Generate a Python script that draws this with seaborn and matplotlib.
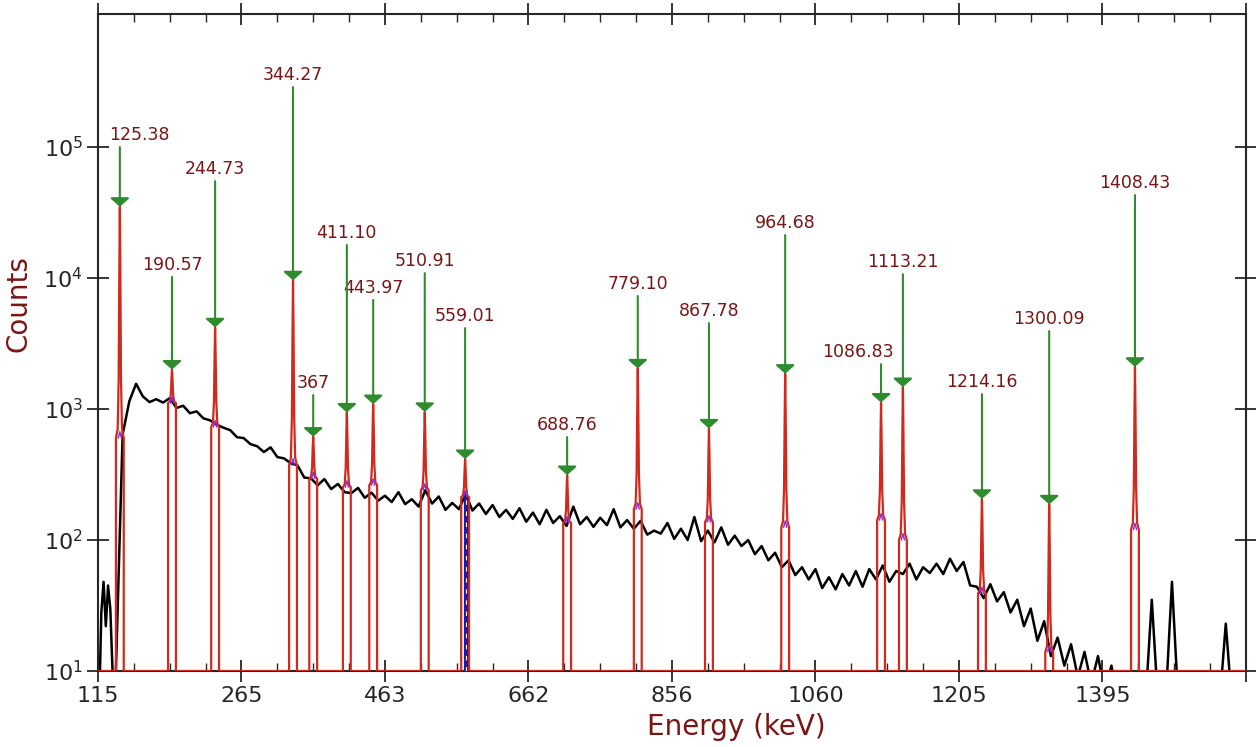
import matplotlib
matplotlib.use('Agg')
import matplotlib.pyplot as plt
import numpy as np
import pandas as pd
import seaborn as sns
from matplotlib.ticker import MultipleLocator, NullLocator

# peak list (x in channels, counts)
peak_labels = ['125.38', '190.57', '244.73', '344.27', '367', '411.10', '443.97',
               '510.91', '559.01', '688.76', '779.10', '867.78', '964.68',
               '1086.83', '1113.21', '1214.16', '1300.09', '1408.43']
peak_ch = [39, 132, 209, 348, 384, 444, 491, 583, 655, 837, 963, 1090, 1226,
           1397, 1436, 1577, 1697, 1850]
peak_top = [35000, 2000, 4200, 9600, 615, 940, 1090, 950, 415, 313, 2040, 710,
            1860, 1120, 1470, 206, 187, 2100]
peak_base = [600, 1110, 730, 373, 295, 253, 262, 240, 213, 135, 172, 137, 125,
             142, 100, 39, 14, 120]
label_at = [1.0e5, 1.02e4, 5.5e4, 2.87e5, 1280, 1.79e4, 6800, 1.09e4, 4150, 611,
            7300, 4530, 2.13e4, 2200, 1.07e4, 1300, 3940, 4.3e4]

# tick labels of the energy axis (ticks every 256 channels)
tick_labels = ['115', '265', '463', '662', '856', '1060', '1205', '1395', '']

# measured spectrum (counts)
early_counts = [5, 28, 48, 22, 45, 30, 10, 5]
main_counts = [640, 1150, 1560, 1250, 1130, 1190, 1120, 1210, 1020, 1060,
               930, 960, 850, 820, 760, 720, 690, 610, 600, 540,
               520, 470, 510, 430, 420, 385, 372, 300, 296, 262,
               292, 245, 268, 232, 228, 250, 210, 230, 200, 218,
               195, 232, 188, 205, 180, 240, 190, 215, 170, 192,
               172, 225, 168, 190, 158, 185, 150, 170, 145, 175,
               138, 162, 132, 170, 135, 152, 128, 180, 132, 150,
               126, 148, 130, 172, 125, 142, 122, 140, 110, 118,
               112, 135, 102, 122, 100, 150, 98, 118, 96, 125,
               92, 108, 90, 100, 78, 90, 70, 80, 62, 70,
               54, 62, 50, 60, 43, 52, 42, 55, 45, 58,
               44, 60, 50, 64, 48, 58, 55, 66, 50, 62,
               56, 66, 55, 72, 58, 68, 45, 44, 36, 46,
               34, 40, 28, 35, 22, 30, 17, 24, 13, 18,
               11, 16, 9, 14, 8, 13, 7, 11, 6, 10,
               9, 5, 5, 35, 5, 5, 48, 5, 5, 5,
               5, 5, 5, 5, 23, 5]

channels = np.concatenate([np.arange(2, 34, 4), np.arange(44, 2025, 12)])
counts = early_counts + main_counts
spec = pd.DataFrame({'channel': channels, 'counts': counts})

# fitted peaks: window edges drop to the floor
W = 7
fx, fy = [0], [10]
for c, h, b in zip(peak_ch, peak_top, peak_base):
    r = h / b
    fx += [c - W, c - W, c - 0.55 * W, c - 0.3 * W, c - 0.12 * W, c,
           c + 0.12 * W, c + 0.3 * W, c + 0.55 * W, c + W, c + W]
    fy += [10, b, b * r ** 0.04, b * r ** 0.25, b * r ** 0.75, h,
           b * r ** 0.75, b * r ** 0.25, b * r ** 0.04, b, 10]
fx.append(2048)
fy.append(10)
fit = pd.DataFrame({'channel': fx, 'counts': fy})

sns.set_style('ticks')
plt.rcParams['font.family'] = ['DejaVu Sans']

fig = plt.figure(figsize=(12.56, 7.47), dpi=100)
ax = fig.add_axes([0.078, 0.1017, 0.914, 0.879])

sns.lineplot(data=spec, x='channel', y='counts', color='black', lw=1.8,
             estimator=None, sort=False, ax=ax, zorder=2)
sns.lineplot(data=fit, x='channel', y='counts', color='#d02a1e', lw=1.6,
             estimator=None, sort=False, ax=ax, zorder=3)

# background marks and the blue marker at 559 keV
for c, b in zip(peak_ch, peak_base):
    ax.plot([c - 0.4 * W, c, c + 0.4 * W], [b, b * 1.12, b], color='#8a2be2',
            lw=1.0, zorder=4)
ax.vlines(peak_ch[8] + 2, 10, peak_base[8], color='#1a1aa8', lw=3, zorder=4)
ax.vlines(peak_ch[8] + 2, 10, peak_base[8], color='white', lw=0.8,
          linestyles=(0, (4, 6)), zorder=5)

green = '#2e8b2e'
maroon = '#7a1515'
for i, (lab, c, h, top) in enumerate(zip(peak_labels, peak_ch, peak_top, label_at)):
    ax.annotate('', xy=(c, h), xytext=(c, top),
                arrowprops=dict(arrowstyle='-|>,head_length=0.4,head_width=0.45',
                                color=green, lw=1.5, mutation_scale=13,
                                shrinkA=0, shrinkB=0), zorder=6)
    if lab == '125.38':
        kw = dict(xytext=(-8, 2), ha='left')
    elif lab == '1086.83':
        kw = dict(xytext=(9, 2), ha='right')
    else:
        kw = dict(xytext=(0, 2), ha='center')
    ax.annotate(lab, xy=(c, top), textcoords='offset points', va='bottom',
                fontsize=12.5, color=maroon, **kw)

ax.set_yscale('log')
ax.set_ylim(10, 1.03e6)
ax.set_xlim(0, 2048)
ax.set_yticks([1e1, 1e2, 1e3, 1e4, 1e5])
ax.yaxis.set_minor_locator(NullLocator())
ax.set_xticks(np.arange(0, 2049, 256))
ax.set_xticklabels(tick_labels)
ax.xaxis.set_minor_locator(MultipleLocator(64))
ax.tick_params(which='major', direction='inout', length=16, width=1.3,
               top=True, right=True, labelsize=16, pad=3)
ax.tick_params(which='minor', direction='in', length=6, width=1.0,
               top=True, bottom=True)
for s in ax.spines.values():
    s.set_linewidth(1.5)

ax.set_xlabel('Energy (keV)', fontsize=20, color=maroon)
ax.set_ylabel('Counts', fontsize=20, color=maroon)
ax.xaxis.set_label_coords(0.556, -0.064)
ax.yaxis.set_label_coords(-0.057, 0.559)
ax.grid(False)

fig.savefig('out.png', dpi=100)
